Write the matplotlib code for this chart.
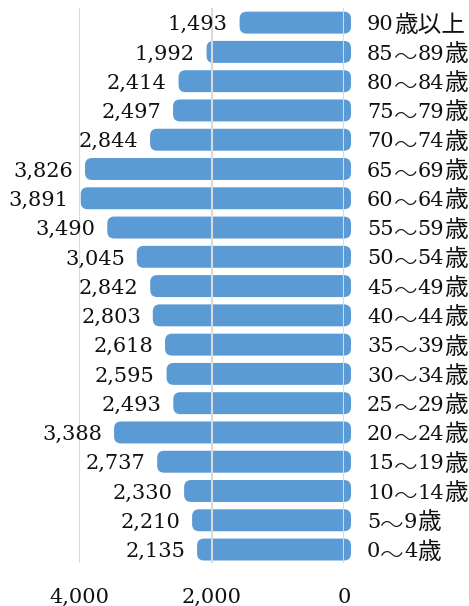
import re
import matplotlib
matplotlib.use("Agg")
import matplotlib.pyplot as plt
from matplotlib.patches import FancyBboxPatch

# データ (上から順)
age_labels = ["90歳以上", "85～89歳", "80～84歳", "75～79歳", "70～74歳",
              "65～69歳", "60～64歳", "55～59歳", "50～54歳", "45～49歳",
              "40～44歳", "35～39歳", "30～34歳", "25～29歳", "20～24歳",
              "15～19歳", "10～14歳", "5～9歳", "0～4歳"]
counts = [1493, 1992, 2414, 2497, 2844, 3826, 3891, 3490, 3045, 2842,
          2803, 2618, 2595, 2493, 3388, 2737, 2330, 2210, 2135]
x_ticks = [4000, 2000, 0]
x_tick_labels = ["4,000", "2,000", "0"]

bar_color = "#5b9bd5"
grid_color = "#d9d9d9"
text_color = "#111111"
num_font = "DejaVu Serif"
cjk_font = "Noto Sans CJK JP"

fig = plt.figure(figsize=(4.69, 6.06), dpi=100)
ax = fig.add_axes([79 / 469, 43 / 606, 265 / 469, 555 / 606])
ax.set_xlim(4000, 0)
ax.set_ylim(18.46, -0.5)

# px -> データ単位
xu = 4000 / 265
yu = 1 / 29.26
radius = 7

for i, v in enumerate(counts):
    x0 = -7 * xu
    x1 = v + 5.5 * xu
    h = 0.75
    p = FancyBboxPatch((x0, i - h / 2), x1 - x0, h,
                       boxstyle=f"round,pad=0,rounding_size={radius * xu}",
                       mutation_aspect=yu / xu,
                       facecolor=bar_color, edgecolor="none",
                       clip_on=False, zorder=1)
    ax.add_patch(p)
    ax.annotate(f"{v:,}", xy=(v, i), xytext=(-12.5, -5.5), textcoords="offset points",
                ha="right", va="baseline", fontsize=15, family=num_font,
                color=text_color, annotation_clip=False)

for t in x_ticks:
    ax.axvline(t, color=grid_color, lw=1.5, zorder=2)

ax.set_xticks(x_ticks)
ax.set_xticklabels(x_tick_labels, family=num_font, fontsize=15, color=text_color)
ax.set_yticks([])
ax.tick_params(axis="both", length=0)
ax.tick_params(axis="x", pad=18)
for s in ax.spines.values():
    s.set_visible(False)

# 年齢ラベル: 数字と漢字を別々に並べる
renderer = fig.canvas.get_renderer()
for i, lab in enumerate(age_labels):
    off = 23 * 0.72
    for part in re.findall(r"[0-9]+|～|[^0-9～]+", lab):
        if part.isdigit():
            kw = dict(fontsize=15, family=num_font)
            dy = -5.5
        elif part == "～":
            kw = dict(fontsize=17, family=cjk_font, fontweight="light")
            dy = -9.4
        else:
            kw = dict(fontsize=17, family=cjk_font)
            dy = -6.5
        t = ax.annotate(part, xy=(0, i), xytext=(off, dy), textcoords="offset points",
                        ha="left", va="baseline", color=text_color,
                        annotation_clip=False, **kw)
        off += t.get_window_extent(renderer).width * 0.72

fig.savefig("out.png", dpi=100)
